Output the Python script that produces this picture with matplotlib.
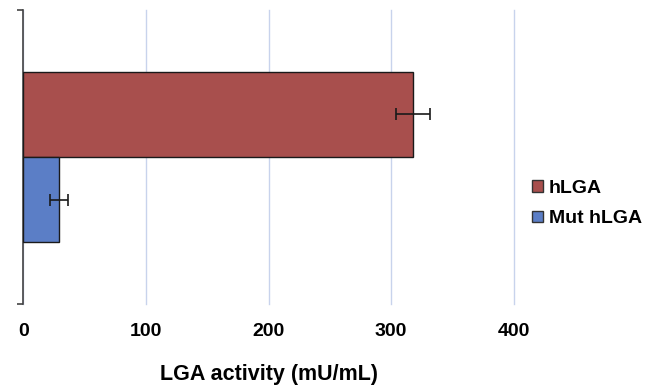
import matplotlib
matplotlib.use("Agg")
import matplotlib.pyplot as plt
from matplotlib.patches import Patch

series = ["hLGA", "Mut hLGA"]
values = [318, 29]
errors = [14, 7]
colors = ["#A84F4D", "#5B7EC6"]
xticks = [0, 100, 200, 300, 400]

plt.rcParams['font.family'] = ['Liberation Sans', 'DejaVu Sans']

fig = plt.figure(figsize=(6.52, 3.87), dpi=100)
ax = fig.add_axes([0.036, 0.2145, 0.752, 0.76])

h = 0.29
ypos = [0.5 + h / 2, 0.5 - h / 2]
for y, v, e, c in zip(ypos, values, errors, colors):
    ax.barh(y, v, height=h, color=c, edgecolor="#1a1a1a", linewidth=1.0, zorder=3)
    ax.errorbar(v, y, xerr=e, fmt="none", ecolor="#1a1a1a", elinewidth=1.2,
                capsize=4, capthick=1.2, zorder=4)

ax.set_xlim(0, 400)
ax.set_ylim(0, 1)
ax.set_xticks(xticks)
ax.set_xticklabels([str(t) for t in xticks], fontsize=14, fontweight="bold")
ax.tick_params(axis="x", length=0, pad=14)
ax.set_yticks([0, 1])
ax.set_yticklabels([])
ax.tick_params(axis="y", length=4, width=1.2, color="#444444")
ax.grid(axis="x", color="#C8D3EC", linewidth=1.0, zorder=0)
for gl in ax.get_xgridlines():
    gl.set_clip_on(False)
for s in ["top", "right", "bottom"]:
    ax.spines[s].set_visible(False)
ax.spines["left"].set_color("#444444")
ax.spines["left"].set_linewidth(1.2)

ax.set_xlabel("LGA activity (mU/mL)", fontsize=15.5, fontweight="bold", labelpad=17)

handles = [Patch(facecolor=c, edgecolor="#333333", label=s) for s, c in zip(series, colors)]
fig.legend(handles=handles, loc="center left", bbox_to_anchor=(0.816, 0.474),
           frameon=False, prop={"size": 14, "weight": "bold"},
           borderpad=0, borderaxespad=0,
           handlelength=0.57, handleheight=0.57, handletextpad=0.3, labelspacing=0.7)

fig.savefig("out.png", dpi=100)
